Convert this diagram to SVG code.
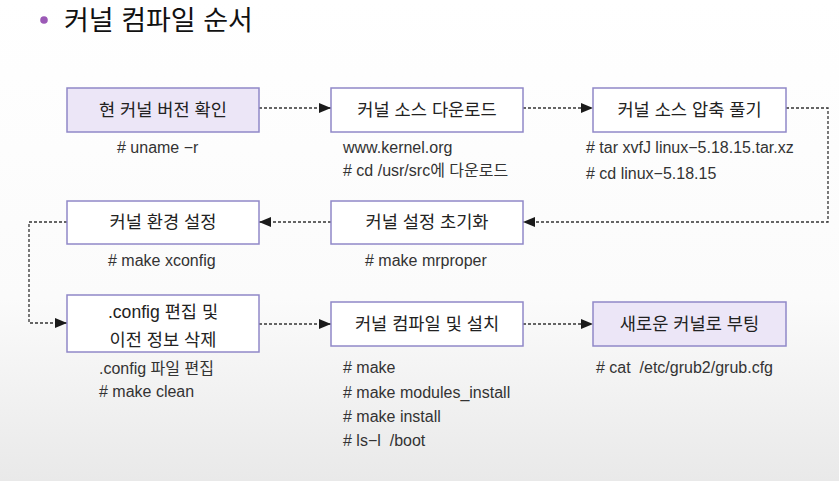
<svg xmlns="http://www.w3.org/2000/svg" width="839" height="481" viewBox="0 0 839 481">
<defs>
<linearGradient id="bg" x1="0" y1="0" x2="0" y2="1">
<stop offset="0" stop-color="#ffffff"/>
<stop offset="0.62" stop-color="#fbfbfb"/>
<stop offset="1" stop-color="#e9e9e9"/>
</linearGradient>
<marker id="ah" viewBox="0 0 12 10" refX="12" refY="5" markerWidth="12" markerHeight="10" markerUnits="userSpaceOnUse" orient="auto">
<path d="M0,0 L12,5 L0,10 Z" fill="#1a1a1a"/>
</marker>
<style>
.box{fill:#ffffff;stroke:#9088c8;stroke-width:1.5}
.hl{fill:#ece6f7}
.lbl{font-family:"Liberation Sans","Noto Sans CJK KR",sans-serif;font-size:17.6px;fill:#222;text-anchor:middle}
.sub{font-family:"Liberation Sans","Noto Sans CJK KR",sans-serif;font-size:16px;fill:#333;white-space:pre}
.con{fill:none;stroke:#333;stroke-width:1.3;stroke-dasharray:3 2}
</style>
</defs>
<rect x="0" y="0" width="839" height="481" fill="url(#bg)"/>
<g id="title">
<circle cx="44" cy="20" r="3.8" fill="#9b59b6"/>
<text x="64" y="30" font-family="Liberation Sans,'Noto Sans CJK KR',sans-serif" font-size="27" fill="#111">커널 컴파일 순서</text>
</g>
<g id="connectors">
<path class="con" d="M259,108 H331" marker-end="url(#ah)"/>
<path class="con" d="M523,108 H593" marker-end="url(#ah)"/>
<path class="con" d="M786,108 H828 V222 H523" marker-end="url(#ah)"/>
<path class="con" d="M331,222 H259" marker-end="url(#ah)"/>
<path class="con" d="M67,222 H29 V323 H67" marker-end="url(#ah)"/>
<path class="con" d="M259,324 H331" marker-end="url(#ah)"/>
<path class="con" d="M523,324 H593" marker-end="url(#ah)"/>
</g>
<g id="n1">
<rect class="box hl" x="67" y="88" width="192" height="44"/>
<text class="lbl" x="163" y="116">현 커널 버전 확인</text>
<text class="sub" x="117" y="153"># uname −r</text>
</g>
<g id="n2">
<rect class="box" x="331" y="88" width="192" height="44"/>
<text class="lbl" x="427" y="116">커널 소스 다운로드</text>
<text class="sub" x="343" y="153">www.kernel.org</text>
<text class="sub" x="343" y="176"># cd /usr/src에 다운로드</text>
</g>
<g id="n3">
<rect class="box" x="593" y="88" width="193" height="44"/>
<text class="lbl" x="689.5" y="116">커널 소스 압축 풀기</text>
<text class="sub" x="586" y="153"># tar xvfJ linux−5.18.15.tar.xz</text>
<text class="sub" x="586" y="179"># cd linux−5.18.15</text>
</g>
<g id="n4">
<rect class="box" x="331" y="201" width="192" height="43"/>
<text class="lbl" x="427" y="228">커널 설정 초기화</text>
<text class="sub" x="365" y="266"># make mrproper</text>
</g>
<g id="n5">
<rect class="box" x="67" y="201" width="192" height="43"/>
<text class="lbl" x="163" y="228">커널 환경 설정</text>
<text class="sub" x="108" y="266"># make xconfig</text>
</g>
<g id="n6">
<rect class="box" x="67" y="295" width="192" height="57"/>
<text class="lbl" x="163" y="318">.config 편집 및</text>
<text class="lbl" x="163" y="346">이전 정보 삭제</text>
<text class="sub" x="99" y="374">.config 파일 편집</text>
<text class="sub" x="99" y="397"># make clean</text>
</g>
<g id="n7">
<rect class="box" x="331" y="302" width="192" height="44"/>
<text class="lbl" x="427" y="330">커널 컴파일 및 설치</text>
<text class="sub" x="343" y="373"># make</text>
<text class="sub" x="343" y="398"># make modules_install</text>
<text class="sub" x="343" y="422"># make install</text>
<text class="sub" x="343" y="446"># ls−l  /boot</text>
</g>
<g id="n8">
<rect class="box hl" x="593" y="302" width="193" height="44"/>
<text class="lbl" x="689.5" y="330">새로운 커널로 부팅</text>
<text class="sub" x="596" y="373"># cat  /etc/grub2/grub.cfg</text>
</g>
</svg>
